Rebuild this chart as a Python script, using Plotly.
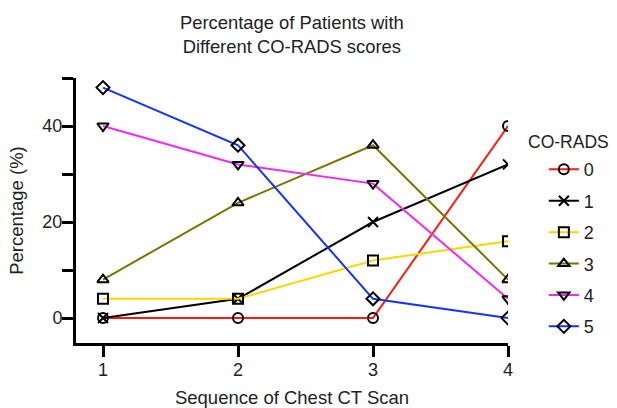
import plotly.graph_objects as go

scans = [1, 2, 3, 4]
series_names = ["0", "1", "2", "3", "4", "5"]
s0 = [0, 0, 0, 40]
s1 = [0, 4, 20, 32]
s2 = [4, 4, 12, 16]
s3 = [8, 24, 36, 8]
s4 = [40, 32, 28, 4]
s5 = [48, 36, 4, 0]
values = [s0, s1, s2, s3, s4, s5]

colors = ["#FF1A0A", "#000000", "#FFD500", "#7A7400", "#EE2BEE", "#1432FF"]
symbols = ["circle-open", "x-thin-open", "square-open", "triangle-up-open", "triangle-down-open", "diamond-open"]

FONT = "Liberation Sans, Arial, Helvetica, sans-serif"

fig = go.Figure()
for name, vals, col, sym in zip(series_names, values, colors, symbols):
    fig.add_trace(go.Scatter(
        x=scans, y=vals, name=name, mode="lines+markers", legendgroup=name,
        line=dict(color=col, width=2),
        marker=dict(symbol=sym, size=10, color="black",
                    line=dict(color="black", width=2)),
    ))

fig.update_layout(
    width=617, height=408,
    margin=dict(l=76, r=109, t=78, b=65),
    paper_bgcolor="white", plot_bgcolor="white",
    font=dict(family=FONT, size=18, color="#222"),
    title=dict(text="Percentage of Patients with<br>Different CO-RADS scores",
               x=0.473, xanchor="center", y=0.928, yanchor="top",
               font=dict(size=18.4, color="#222")),
    legend=dict(x=1.083, xanchor="left", y=0.724, yanchor="top",
                font=dict(size=18), tracegroupgap=5,
                itemwidth=30),
    annotations=[dict(text="CO-RADS", xref="paper", yref="paper", x=1.042, y=0.712,
                      xanchor="left", yanchor="bottom", showarrow=False,
                      font=dict(size=17.5, color="#222"))],
    showlegend=True,
)
fig.update_xaxes(
    range=[0.8, 4], tickvals=[1, 2, 3, 4], ticks="outside", ticklen=11, tickwidth=3,
    tickcolor="black", showline=True, linecolor="black", linewidth=3,
    showgrid=False, zeroline=False, automargin=False, ticklabelstandoff=-3,
    title=dict(text="Sequence of Chest CT Scan", standoff=13, font=dict(size=18.5)),
)
fig.update_yaxes(
    range=[-5.2, 50], tickvals=[0, 20, 40], ticks="outside", ticklen=11, tickwidth=3,
    tickcolor="black", showline=True, linecolor="black", linewidth=3,
    showgrid=False, zeroline=False, automargin=False, ticklabelstandoff=-4,
    minor=dict(tickvals=[10, 30, 50], ticks="outside", ticklen=11, tickwidth=3, tickcolor="black"),
    title=dict(text="Percentage (%)", standoff=14, font=dict(size=18.5)),
)

fig.write_html("out.html", config={"displayModeBar": False},
               post_script="document.body.style.margin='0';")
